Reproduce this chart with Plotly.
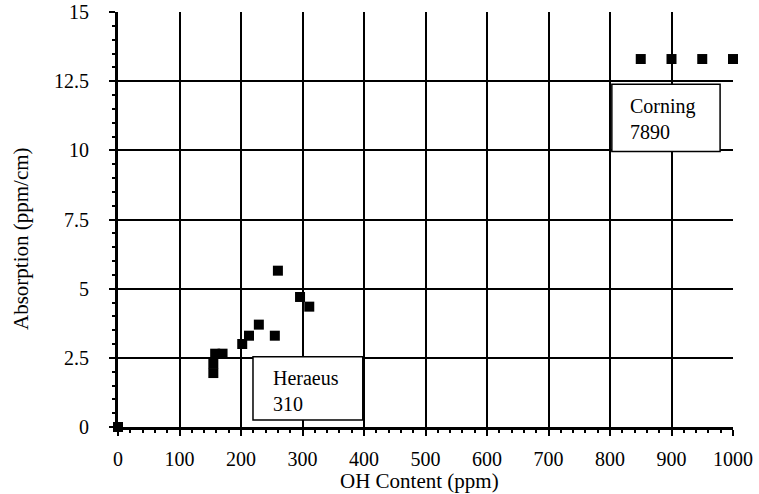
import plotly.graph_objects as go

# OH content (ppm) vs absorption (ppm/cm)
origin_x = [0]
origin_y = [0]

heraeus_oh = [155, 155, 158, 170, 202, 213, 229, 255, 260, 296, 311]
heraeus_abs = [1.95, 2.3, 2.65, 2.65, 3.0, 3.3, 3.7, 3.3, 5.65, 4.7, 4.35]

corning_oh = [850, 900, 950, 1000]
corning_abs = [13.3, 13.3, 13.3, 13.3]

x_ticks = [0, 100, 200, 300, 400, 500, 600, 700, 800, 900, 1000]
y_ticks = [0, 2.5, 5, 7.5, 10, 12.5, 15]
y_tick_text = ["0", "2.5", "5", "7.5", "10", "12.5", "15"]

serif = "Liberation Serif, Times New Roman, serif"
marker = dict(symbol="square", size=10, color="black", line=dict(width=0))

fig = go.Figure()
for xs, ys in [(origin_x, origin_y), (heraeus_oh, heraeus_abs), (corning_oh, corning_abs)]:
    fig.add_trace(go.Scatter(x=xs, y=ys, mode="markers", marker=marker,
                             cliponaxis=False, showlegend=False))

# label boxes (opaque, drawn above the grid)
boxes = [
    dict(x0=219.5, x1=398, y0=0.25, y1=2.54, text="Heraeus<br>310", tx=249, ty=1.3),
    dict(x0=803, x1=979, y0=9.96, y1=12.39, text="Corning<br>7890", tx=829, ty=11.15),
]
for b in boxes:
    fig.add_shape(type="rect", x0=b["x0"], x1=b["x1"], y0=b["y0"], y1=b["y1"],
                  xref="x", yref="y", fillcolor="white",
                  line=dict(color="black", width=1.5), layer="above")
    fig.add_annotation(x=b["tx"], y=b["ty"], xref="x", yref="y", text=b["text"],
                       showarrow=False, xanchor="left", yanchor="middle", align="left",
                       font=dict(family=serif, size=20, color="black"))

# axis titles
title_font = dict(family=serif, size=21, color="black")
fig.add_annotation(x=0.491, y=-0.130, xref="paper", yref="paper", text="OH Content (ppm)",
                   showarrow=False, xanchor="center", yanchor="middle", font=title_font)
fig.add_annotation(x=-0.158, y=0.455, xref="paper", yref="paper", text="Absorption (ppm/cm)",
                   showarrow=False, xanchor="center", yanchor="middle", textangle=-90,
                   font=title_font)

axis_common = dict(
    showgrid=True, gridcolor="black", gridwidth=1.5,
    showline=True, linecolor="black", linewidth=3,
    ticks="outside", ticklen=6, tickwidth=2, tickcolor="black",
    tickfont=dict(family=serif, size=20, color="black"),
    zeroline=False, automargin=False,
)

fig.update_xaxes(
    range=[0, 1000], tickmode="array", tickvals=x_ticks,
    minor=dict(ticks="outside", dtick=20, ticklen=3, tickwidth=1.5, tickcolor="black", showgrid=False),
    ticklabelstandoff=6,
    **axis_common,
)
fig.update_yaxes(
    range=[0, 15], tickmode="array", tickvals=y_ticks, ticktext=y_tick_text,
    minor=dict(ticks="outside", dtick=0.5, ticklen=3, tickwidth=1.5, tickcolor="black", showgrid=False),
    ticklabelstandoff=16,
    **axis_common,
)

fig.update_layout(
    width=759, height=494,
    margin=dict(l=118, r=26, t=12, b=67),
    paper_bgcolor="white", plot_bgcolor="white",
    font=dict(family=serif, color="black"),
)

fig.write_html("out.html")
